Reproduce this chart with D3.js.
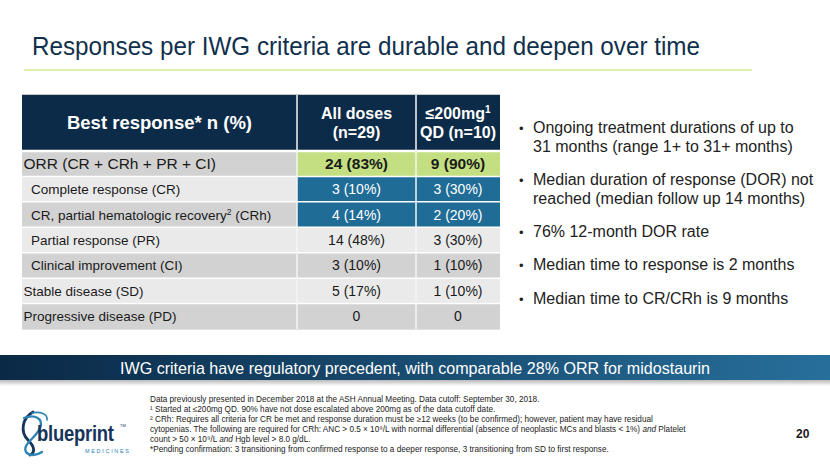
<!DOCTYPE html>
<html>
<head>
<meta charset="utf-8">
<script src="https://cdn.jsdelivr.net/npm/d3@7"></script>
<style>
  html, body { margin: 0; padding: 0; background: #ffffff; }
  svg { display: block; font-family: "Liberation Sans", Arial, sans-serif; }
</style>
</head>
<body>
<svg id="chart" width="830" height="467"></svg>
<script>
// ---------- data ----------
const title = "Responses per IWG criteria are durable and deepen over time";
const headerLabels = ["Best response* n (%)", "All doses|(n=29)", "≤200mg¹|QD (n=10)"];
const rowLabels = [
  "ORR (CR + CRh + PR + CI)",
  "Complete response (CR)",
  "CR, partial hematologic recovery² (CRh)",
  "Partial response (PR)",
  "Clinical improvement (CI)",
  "Stable disease (SD)",
  "Progressive disease (PD)"
];
const rowIndented = [false, true, true, true, true, false, false];
const allDoses = ["24 (83%)", "3 (10%)", "4 (14%)", "14 (48%)", "3 (10%)", "5 (17%)", "0"];
const lowDose  = ["9 (90%)",  "3 (30%)", "2 (20%)", "3 (30%)",  "1 (10%)", "1 (10%)", "0"];
const bullets = [
  ["Ongoing treatment durations of up to", "31 months (range 1+ to 31+ months)"],
  ["Median duration of response (DOR) not", "reached (median follow up 14 months)"],
  ["76% 12-month DOR rate"],
  ["Median time to response is 2 months"],
  ["Median time to CR/CRh is 9 months"]
];
const banner = "IWG criteria have regulatory precedent, with comparable 28% ORR for midostaurin";
const footnotes = [
  [["Data previously presented in December 2018 at the ASH Annual Meeting. Data cutoff: September 30, 2018.", false]],
  [["¹ Started at ≤200mg QD. 90% have not dose escalated above 200mg as of the data cutoff date.", false]],
  [["² CRh: Requires all criteria for CR be met and response duration must be ≥12 weeks (to be confirmed); however, patient may have residual", false]],
  [["cytopenias. The following are required for CRh: ANC > 0.5 × 10⁹/L with normal differential (absence of neoplastic MCs and blasts < 1%) ", false], ["and", true], [" Platelet", false]],
  [["count > 50 × 10⁹/L ", false], ["and", true], [" Hgb level > 8.0 g/dL.", false]],
  [["*Pending confirmation: 3 transitioning from confirmed response to a deeper response, 3 transitioning from SD to first response.", false]]
];
const pageNumber = "20";

// ---------- layout ----------
const svg = d3.select("#chart");
const defs = svg.append("defs");

const navy = "#0c2b48";
const blue = "#1f6d97";
const green = "#c4df81";
const greyDark = "#d2d2d2";
const greyLight = "#eaeaea";

// Title
svg.append("text")
  .attr("x", 32).attr("y", 55)
  .attr("font-size", 25)
  .attr("fill", "#10304d")
  .attr("textLength", 668).attr("lengthAdjust", "spacingAndGlyphs")
  .text(title);

svg.append("line")
  .attr("x1", 24).attr("x2", 752).attr("y1", 70).attr("y2", 70)
  .attr("stroke", "#d3ea8c").attr("stroke-width", 1.5);

// Table
const colEdges = [22, 297, 416, 500];
const headerTop = 95, headerBottom = 151, tableBottom = 329;

const yRow = d3.scaleBand()
  .domain(d3.range(rowLabels.length))
  .range([headerBottom, tableBottom])
  .paddingInner(0);

const table = svg.append("g");

// header cells
headerLabels.forEach((lab, i) => {
  const x0 = colEdges[i], x1 = colEdges[i + 1];
  table.append("rect")
    .attr("x", x0).attr("y", headerTop)
    .attr("width", x1 - x0).attr("height", headerBottom - headerTop)
    .attr("fill", navy);
  const lines = lab.split("|");
  const cx = (x0 + x1) / 2;
  const fs = i === 0 ? 18.5 : 16;
  const lh = 19;
  const cy = (headerTop + headerBottom) / 2;
  lines.forEach((ln, j) => {
    const yy = cy + (j - (lines.length - 1) / 2) * lh + fs * 0.35;
    const t = table.append("text")
      .attr("x", cx).attr("y", yy)
      .attr("text-anchor", "middle")
      .attr("font-size", fs).attr("font-weight", "bold")
      .attr("fill", "#ffffff");
    if (ln.includes("¹")) {
      const parts = ln.split("¹");
      t.append("tspan").text(parts[0]);
      t.append("tspan").attr("font-size", 10).attr("dy", -6).text("1");
    } else {
      t.text(ln);
    }
  });
});

// body cells
rowLabels.forEach((lab, r) => {
  const y0 = yRow(r), h = yRow.bandwidth();
  const rowBg = r % 2 === 0 ? greyDark : greyLight;
  const valueBg = r === 0 ? green : (r === 1 || r === 2 ? blue : rowBg);
  const valueColor = (r === 1 || r === 2) ? "#ffffff" : "#1a1a1a";
  const vals = [lab, allDoses[r], lowDose[r]];
  vals.forEach((v, c) => {
    const x0 = colEdges[c], x1 = colEdges[c + 1];
    table.append("rect")
      .attr("x", x0).attr("y", y0)
      .attr("width", x1 - x0).attr("height", h)
      .attr("fill", c === 0 ? rowBg : valueBg);
    const ty = y0 + h / 2 + 5;
    if (c === 0) {
      const fs = r === 0 ? 15.5 : 13.5;
      const t = table.append("text")
        .attr("x", x0 + (rowIndented[r] ? 9 : 1.5))
        .attr("y", ty + (r === 0 ? 0.5 : 0))
        .attr("font-size", fs)
        .attr("fill", "#1a1a1a");
      if (v.includes("²")) {
        const parts = v.split("²");
        t.append("tspan").text(parts[0]);
        t.append("tspan").attr("font-size", 8.5).attr("dy", -5).text("2");
        t.append("tspan").attr("dy", 5).text(parts[1]);
      } else {
        t.text(v);
      }
    } else {
      table.append("text")
        .attr("x", (x0 + x1) / 2).attr("y", ty + (r === 0 ? 0.5 : 0))
        .attr("text-anchor", "middle")
        .attr("font-size", r === 0 ? 15.5 : 14)
        .attr("font-weight", r === 0 ? "bold" : "normal")
        .attr("fill", valueColor)
        .text(v);
    }
  });
});

// grid lines (white separators)
yRow.domain().forEach(r => {
  table.append("line")
    .attr("x1", colEdges[0]).attr("x2", colEdges[3])
    .attr("y1", yRow(r)).attr("y2", yRow(r))
    .attr("stroke", "#ffffff").attr("stroke-width", 1.5);
});
table.append("line")
  .attr("x1", colEdges[0]).attr("x2", colEdges[3])
  .attr("y1", headerBottom).attr("y2", headerBottom)
  .attr("stroke", "#ffffff").attr("stroke-width", 2.5);
[1, 2].forEach(c => {
  table.append("line")
    .attr("x1", colEdges[c]).attr("x2", colEdges[c])
    .attr("y1", headerTop).attr("y2", tableBottom)
    .attr("stroke", "#f4f4f4").attr("stroke-width", 1.5);
});
table.append("line")
  .attr("x1", colEdges[0]).attr("x2", colEdges[3])
  .attr("y1", headerTop - 0.5).attr("y2", headerTop - 0.5)
  .attr("stroke", "#c8c8c8").attr("stroke-width", 1);
table.append("line")
  .attr("x1", colEdges[0]).attr("x2", colEdges[3])
  .attr("y1", tableBottom + 0.5).attr("y2", tableBottom + 0.5)
  .attr("stroke", "#e2e2e2").attr("stroke-width", 1);

// Bullets
const bulletTops = [127, 179, 231, 264, 298];
const bg = svg.append("g");
bullets.forEach((lines, i) => {
  bg.append("text")
    .attr("x", 519).attr("y", bulletTops[i] + 5.5)
    .attr("font-size", 13).attr("fill", "#222")
    .text("•");
  lines.forEach((ln, j) => {
    bg.append("text")
      .attr("x", 533).attr("y", bulletTops[i] + 5.5 + j * 19.5)
      .attr("font-size", 16).attr("fill", "#222")
      .text(ln);
  });
});

// Banner
const grad = defs.append("linearGradient").attr("id", "bannerGrad")
  .attr("x1", "0%").attr("x2", "100%").attr("y1", "0%").attr("y2", "0%");
grad.append("stop").attr("offset", "0%").attr("stop-color", "#0a2946");
grad.append("stop").attr("offset", "100%").attr("stop-color", "#276f9b");
const shadow = defs.append("linearGradient").attr("id", "shadowGrad")
  .attr("x1", "0%").attr("x2", "0%").attr("y1", "0%").attr("y2", "100%");
shadow.append("stop").attr("offset", "0%").attr("stop-color", "#b8b8b8");
shadow.append("stop").attr("offset", "100%").attr("stop-color", "#ffffff");

svg.append("rect").attr("x", 0).attr("y", 380).attr("width", 830).attr("height", 6)
  .attr("fill", "url(#shadowGrad)");
svg.append("rect").attr("x", 0).attr("y", 355).attr("width", 830).attr("height", 25)
  .attr("fill", "url(#bannerGrad)");
svg.append("text")
  .attr("x", 415).attr("y", 373.5)
  .attr("text-anchor", "middle")
  .attr("font-size", 16.5).attr("fill", "#ffffff")
  .attr("textLength", 590).attr("lengthAdjust", "spacingAndGlyphs")
  .text(banner);

// Footnotes
const fg = svg.append("g");
footnotes.forEach((parts, i) => {
  const t = fg.append("text")
    .attr("x", 150).attr("y", 402 + i * 10)
    .attr("font-size", 8.2).attr("fill", "#222")
    .attr("xml:space", "preserve");
  parts.forEach(([s, it]) => {
    t.append("tspan").attr("font-style", it ? "italic" : "normal").text(s);
  });
});

// Page number
svg.append("text")
  .attr("x", 796).attr("y", 438)
  .attr("font-size", 12).attr("font-weight", "bold").attr("fill", "#1a1a1a")
  .text(pageNumber);

// Logo
const logo = svg.append("g");
logo.append("path")
  .attr("d", "M33,412 C22,418 20,432 28,440 C34,446 36,452 30,455")
  .attr("fill", "none").attr("stroke", "#17345a").attr("stroke-width", 2.8).attr("stroke-linecap", "round");
logo.append("path")
  .attr("d", "M24,418 C34,414 44,418 40,428 C36,438 22,444 26,452 C29,456 36,456 42,452")
  .attr("fill", "none").attr("stroke", "#2c84b4").attr("stroke-width", 2.3).attr("stroke-linecap", "round");
logo.append("path")
  .attr("d", "M32,413 C40,411 48,414 47,420")
  .attr("fill", "none").attr("stroke", "#2c84b4").attr("stroke-width", 1.6).attr("stroke-linecap", "round");
logo.append("g")
  .attr("transform", "translate(37,441) scale(0.84,1)")
  .append("text")
  .attr("x", 0).attr("y", 0)
  .attr("font-size", 22).attr("font-weight", "bold").attr("fill", "#17345a")
  .attr("letter-spacing", -0.3)
  .text("blueprint");
logo.append("text")
  .attr("x", 120).attr("y", 427)
  .attr("font-size", 4).attr("fill", "#17345a")
  .text("TM");
logo.append("text")
  .attr("x", 85).attr("y", 453)
  .attr("font-size", 5.5).attr("fill", "#2c84b4")
  .attr("textLength", 44).attr("lengthAdjust", "spacing")
  .text("MEDICINES");
</script>
</body>
</html>
